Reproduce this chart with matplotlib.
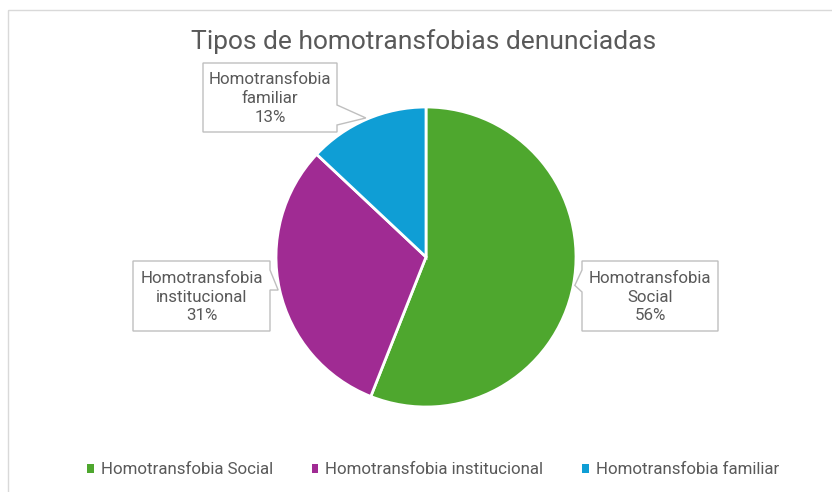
import numpy as np
import matplotlib.pyplot as plt
from matplotlib.patches import Polygon, Rectangle
from matplotlib.transforms import Affine2D

plt.rcParams['font.family'] = ['Roboto', 'DejaVu Sans']

# datos
categories = ['Homotransfobia Social', 'Homotransfobia institucional', 'Homotransfobia familiar']
values = [56, 31, 13]
label_names = ['Homotransfobia\nSocial', 'Homotransfobia\ninstitucional', 'Homotransfobia\nfamiliar']
colors = ['#4EA72E', '#A02B93', '#0F9ED5']

W, H = 832, 492
TXT = '#595959'

fig = plt.figure(figsize=(W / 100, H / 100), dpi=100)
# coordenadas en pixeles desde arriba
pix = Affine2D().scale(1 / W, -1 / H).translate(0, 1) + fig.transFigure

fig.patches.append(Rectangle((8, 10), 900, 600, transform=pix, fill=False,
                             edgecolor='#D9D9D9', linewidth=1))

cx, cy, r = 426, 257, 150
ax = fig.add_axes([(cx - r) / W, (H - cy - r) / H, 2 * r / W, 2 * r / H])
wedges, _ = ax.pie(values, startangle=90, counterclock=False, colors=colors,
                   wedgeprops=dict(edgecolor='white', linewidth=2))
ax.set_xlim(-1, 1)
ax.set_ylim(-1, 1)
ax.set_aspect('equal')

fig.text(424, 42, 'Tipos de homotransfobias denunciadas', transform=pix,
         ha='center', va='center', fontsize=19, color=TXT)

# cajas de las etiquetas: (x0, y0, x1, y1, lado del puntero, base del puntero)
boxes = [
    (582, 261, 718, 331, 'left', (270, 292)),
    (133, 261, 270, 331, 'right', (270, 290)),
    (203, 63, 337, 132, 'right', (105, 125)),
]

to_pix = ax.transData + pix.inverted()
for w, name, v, (x0, y0, x1, y1, side, (b0, b1)) in zip(wedges, label_names, values, boxes):
    mid = np.deg2rad((w.theta1 + w.theta2) / 2)
    tx, ty = to_pix.transform((1.01 * np.cos(mid), 1.01 * np.sin(mid)))
    if side == 'right':
        verts = [(x0, y0), (x1, y0), (x1, b0), (tx, ty), (x1, b1), (x1, y1), (x0, y1)]
    else:
        verts = [(x0, y0), (x1, y0), (x1, y1), (x0, y1), (x0, b1), (tx, ty), (x0, b0)]
    fig.patches.append(Polygon(verts, closed=True, transform=pix, facecolor='white',
                               edgecolor='#BFBFBF', linewidth=1))
    fig.text((x0 + x1) / 2, (y0 + y1) / 2 + 1, f'{name}\n{v}%', transform=pix,
             ha='center', va='center', fontsize=12.2, color=TXT, linespacing=1.3)

leg = fig.legend(wedges, categories, loc='center', bbox_to_anchor=(433 / W, 1 - 470 / H),
                 ncol=3, frameon=False, fontsize=12.2, handlelength=0.4, handleheight=0.4,
                 columnspacing=2.3, handletextpad=0.4)
for t in leg.get_texts():
    t.set_color(TXT)
for h in leg.legend_handles:
    h.set_edgecolor('none')

fig.savefig('out.png', dpi=100)
